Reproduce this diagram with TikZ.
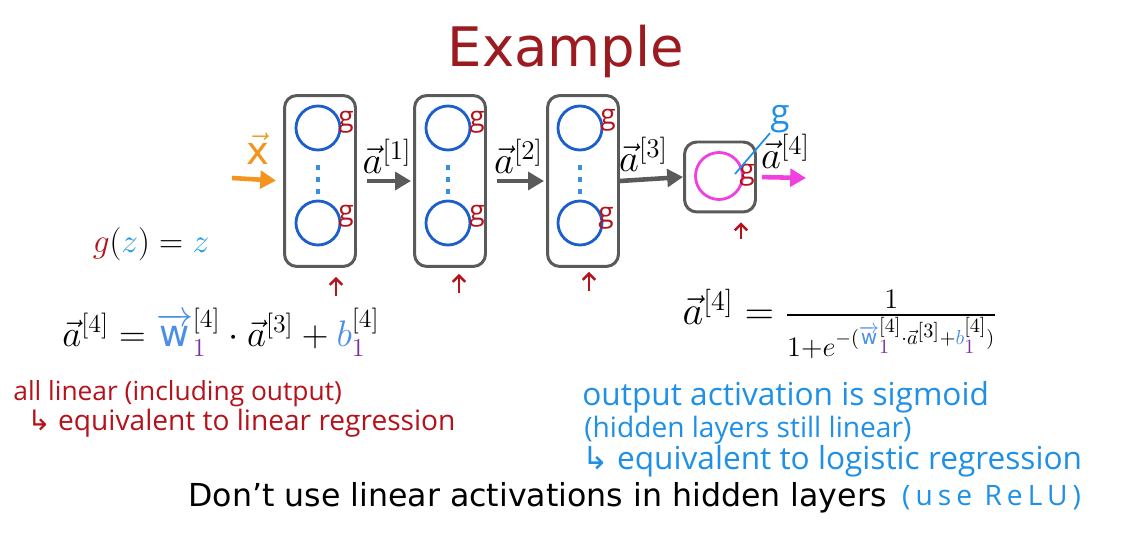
\RequirePackage{fix-cm}
\documentclass[tikz,border=0pt]{standalone}
\usepackage{amsmath}
\usepackage{fontspec}
\setmainfont{DejaVu Sans}
\newfontfamily\handfont{Open Sans}
\newfontfamily\handwide[LetterSpace=18]{Open Sans}
\newfontfamily\symfont{DejaVu Sans}
\usetikzlibrary{arrows.meta}
\usetikzlibrary{positioning,calc}
\definecolor{titlered}{HTML}{9C1B20}
\definecolor{inkred}{HTML}{B5121B}
\definecolor{inkblue}{HTML}{1E90E6}
\definecolor{unitblue}{HTML}{1A5FCB}
\definecolor{dotblue}{HTML}{3A8FE0}
\definecolor{zblue}{HTML}{1E9BE0}
\definecolor{wblue}{HTML}{4A8FE8}
\definecolor{subpurple}{HTML}{7B2FA0}
\definecolor{inorange}{HTML}{F4931E}
\definecolor{outpink}{HTML}{F040E0}
\definecolor{boxgray}{HTML}{5A5A5A}
\newcommand{\wvec}{\textcolor{wblue}{\overrightarrow{\mathrm{w}}}_{\textcolor{subpurple}{1}}^{[4]}}
\newcommand{\bvec}{\textcolor{wblue}{b}_{\textcolor{subpurple}{1}}^{[4]}}
\tikzset{
    layer/.style={
        rectangle,
        rounded corners=7pt,
        draw=boxgray,
        line width=1.7pt,
        minimum width=1.42cm,
        minimum height=3.42cm
    },
    unit/.style={
        circle,
        draw=unitblue,
        line width=1.6pt,
        minimum size=0.88cm
    },
    flow/.style={
        -{Triangle[length=9pt,width=10pt]},
        line width=2.6pt,
        draw=boxgray
    },
    nudge/.style={
        -{Straight Barb[length=3.5pt,width=7pt]},
        line width=1.4pt,
        draw=inkred
    },
    vdots/.style={dotblue, line width=0.09cm, dash pattern=on 0.09cm off 0.15cm},
    gmark/.style={font=\handfont\fontsize{16}{16}\selectfont, text=inkred, inner sep=0pt},
    redhand/.style={font=\handfont\fontsize{15}{18}\selectfont, text=inkred, anchor=west, inner sep=0pt},
    bluehand/.style={font=\handfont\fontsize{18}{18}\selectfont, text=inkblue, anchor=west, inner sep=0pt},
    labeltext/.style={font=\fontsize{22}{24}\selectfont, inner sep=1pt}
}

\begin{document}
\begin{tikzpicture}[x=0.02cm, y=-0.02cm]

\fill[white] (0,0) rectangle (1133,540);

% 1. Title
\node[font=\fontsize{31}{31}\selectfont, text=titlered] (title) at (566,51) {Example};

% 2. Hidden layers
\node[layer] (L1) at (320,181) {};
\node[unit] (L1a) at (318,128) {};
\node[unit] (L1b) at (318,223) {};
\node[layer] (L2) at (450,181) {};
\node[unit] (L2a) at (448,128) {};
\node[unit] (L2b) at (448,223) {};
\node[layer] (L3) at (583,181) {};
\node[unit] (L3a) at (580,128) {};
\node[unit] (L3b) at (580,223) {};
\draw[vdots] ([yshift=-0.28cm]L1a.south) -- ([yshift=0.12cm]L1b.north);
\draw[vdots] ([yshift=-0.28cm]L2a.south) -- ([yshift=0.12cm]L2b.north);
\draw[vdots] ([yshift=-0.28cm]L3a.south) -- ([yshift=0.12cm]L3b.north);
\node[gmark] (g1a) at (346,122) {g};
\node[gmark] (g1b) at (346,216) {g};
\node[gmark] (g2a) at (477,122) {g};
\node[gmark] (g2b) at (477,216) {g};
\node[gmark] (g3a) at (608,120) {g};
\node[gmark] (g3b) at (606,218) {g};

% 3. Output layer
\node[layer, minimum width=1.42cm, minimum height=1.4cm] (Lout) at (720,177) {};
\node[unit, draw=outpink, minimum size=0.94cm] (out) at (719,176) {};
\node[gmark] (gout) at (747,175) {g};
\node[font=\handfont\fontsize{20}{20}\selectfont, text=inkblue, inner sep=0pt] (gnote) at (780,119) {g};
\draw[inkblue, line width=1pt] ($(out.center)+(16,-2)$) -- (gnote.south west);

% 4. Connections
\coordinate (xin) at (232,178);
\coordinate (aout) at (806,178);
\draw[flow, draw=inorange, shorten >=0.14cm] (xin) -- (L1.west)
    node[midway, above=6pt, text=inorange, labeltext] {$\vec{\mathrm{x}}$};
\draw[flow, shorten <=0.2cm, shorten >=0.04cm] (L1.east) -- (L2.west)
    node[midway, above=2pt, labeltext, xshift=0.04cm] {$\vec a^{[1]}$};
\draw[flow, shorten <=0.2cm, shorten >=0.04cm] (L2.east) -- (L3.west)
    node[midway, above=2pt, labeltext, xshift=0.04cm] {$\vec a^{[2]}$};
\draw[flow] (L3.east) -- (Lout.west)
    node[midway, above=2pt, labeltext, xshift=-0.16cm] {$\vec a^{[3]}$};
\draw[flow, draw=outpink, shorten <=0.1cm] (Lout.east) -- (aout)
    node[midway, above=3pt, labeltext, xshift=0.08cm] {$\vec a^{[4]}$};

% 5. Red marks under layers
\draw[nudge] ([xshift=0.32cm, yshift=-0.56cm]L1.south) -- ++(0cm,0.38cm);
\draw[nudge] ([xshift=0.18cm, yshift=-0.50cm]L2.south) -- ++(0cm,0.38cm);
\draw[nudge] ([xshift=0.12cm, yshift=-0.46cm]L3.south) -- ++(0cm,0.38cm);
\draw[nudge] ([xshift=0.42cm, yshift=-0.52cm]Lout.south) -- ++(0cm,0.34cm);

% 6. Equations
\node[labeltext, font=\fontsize{19}{20}\selectfont] (gz) at (151,244) {$\textcolor{inkred}{g}(\textcolor{zblue}{z}) = \textcolor{zblue}{z}$};
\node[labeltext, font=\fontsize{21}{22}\selectfont] (lin) at (221,332) {$\vec a^{[4]} = \wvec \cdot \vec a^{[3]} + \bvec$};
\node[labeltext, font=\fontsize{23}{24}\selectfont] (sig) at (840,324) {$\vec a^{[4]} = \frac{1}{1+e^{-(\wvec\cdot\vec a^{[3]}+\bvec)}}$};

% 7. Notes
\node[redhand] (r1) at (13,394) {all linear (including output)};
\node[redhand, font=\handfont\fontsize{16}{18}\selectfont] (r2) at (27,423) {{\symfont ↳} equivalent to linear regression};
\node[bluehand] (b1) at (582,397) {output activation is sigmoid};
\node[bluehand, font=\handfont\fontsize{16}{18}\selectfont] (b2) at (584,430) {(hidden layers still linear)};
\node[bluehand] (b3) at (582,461) {{\symfont ↳} equivalent to logistic regression};
\node[font=\fontsize{18}{18}\selectfont, anchor=west, inner sep=0pt] (bottom) at (188,498) {Don’t use linear activations in hidden layers};
\node[bluehand, font=\handwide\fontsize{16}{18}\selectfont, right=0.3cm of bottom] (relu) {(use ReLU)};

\end{tikzpicture}
\end{document}
